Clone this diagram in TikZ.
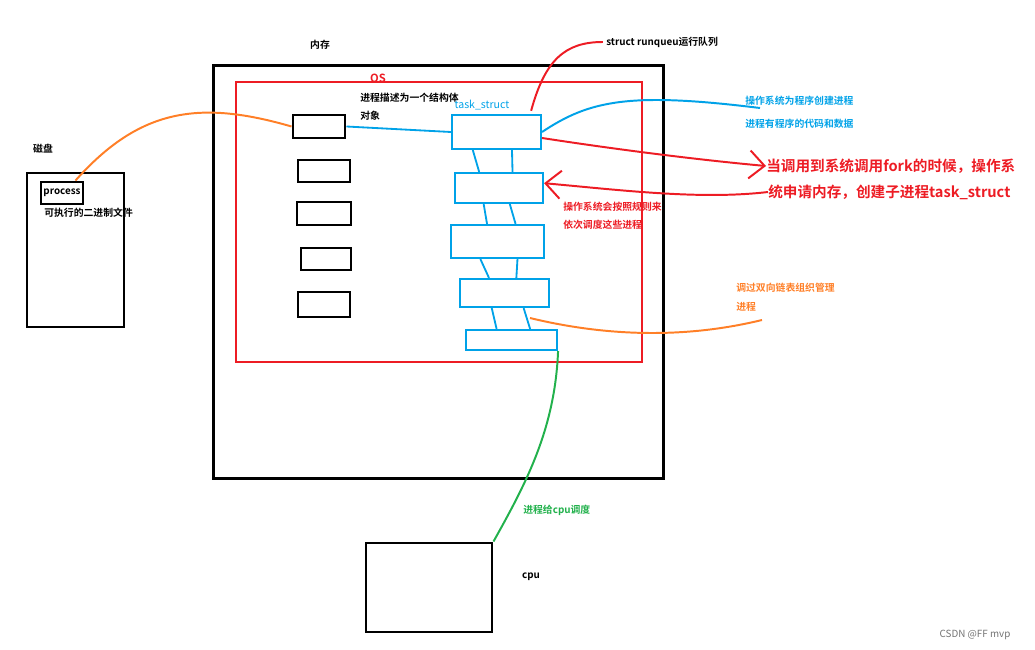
\documentclass[tikz,border=0pt]{standalone}
\usepackage{fontspec}
\setmainfont{Noto Sans CJK SC}[BoldFont={Noto Sans CJK SC Bold}]
\usetikzlibrary{arrows.meta,calc}
\definecolor{pred}{RGB}{237,28,36}
\definecolor{pblue}{RGB}{0,162,232}
\definecolor{porange}{RGB}{255,127,39}
\definecolor{pgreen}{RGB}{34,177,76}

\begin{document}
\begin{tikzpicture}[x=0.025cm, y=-0.025cm,
        blk/.style={draw=black, line width=2.1pt, inner sep=0pt},
        task/.style={draw=pblue, line width=1.5pt, inner sep=0pt},
        txt/.style={font=\bfseries\fontsize{7}{8}\selectfont, inner sep=0pt, anchor=west},
        bigtxt/.style={font=\bfseries\fontsize{10.4}{12}\selectfont, text=pred, inner sep=0pt, anchor=west},
        link/.style={pblue, line width=1.3pt},
        pen/.style={line width=1.4pt},
        barb/.style={-{Straight Barb[length=3.8mm, width=7mm, line width=1.4pt]}}]
        \useasboundingbox (0,0) rectangle (1035,650);

        % Memory and OS frames
        \node[blk, minimum width=11.225cm, minimum height=10.3cm] (mem) at (438.5,272) {};
        \node[draw=pred, line width=1.4pt, inner sep=0pt, minimum width=10.15cm, minimum height=7cm] (os) at (439,222) {};
        \node[txt, anchor=center] (memlbl) at (320,45) {内存};
        \node[inner sep=0pt, text=pred, font=\bfseries\fontsize{8}{9}\selectfont] (oslbl) at (378,78) {OS};
        \node[txt] (desc1) at (360,98) {进程描述为一个结构体};
        \node[txt] (desc2) at (360,116) {对象};

        % Disk with the program file
        \node[txt, anchor=center] (disklbl) at (43,149) {磁盘};
        \node[blk, minimum width=2.425cm, minimum height=3.85cm] (disk) at (75.5,250) {};
        \node[blk, minimum width=1.05cm, minimum height=0.55cm, font=\bfseries\fontsize{7}{8}\selectfont] (proc) at (62,193) {process};
        \node[txt] (binlbl) at (44,213) {可执行的二进制文件};

        % Left column - process objects
        \node[blk, minimum width=1.3cm, minimum height=0.575cm] (obj1) at (319,126.5) {};
        \node[blk, minimum width=1.3cm, minimum height=0.55cm] (obj2) at (324,171) {};
        \node[blk, minimum width=1.35cm, minimum height=0.575cm] (obj3) at (324,213.5) {};
        \node[blk, minimum width=1.25cm, minimum height=0.55cm] (obj4) at (326,259) {};
        \node[blk, minimum width=1.3cm, minimum height=0.625cm] (obj5) at (324,304.5) {};

        % Right column - task_struct list
        \node[inner sep=0pt, text=pblue, font=\fontsize{7.5}{8}\selectfont] (tslbl) at (482,105) {task\_struct};
        \node[task, minimum width=2.225cm, minimum height=0.85cm] (t1) at (496.5,132) {};
        \node[task, minimum width=2.2cm, minimum height=0.75cm] (t2) at (499,188) {};
        \node[task, minimum width=2.325cm, minimum height=0.825cm] (t3) at (497.5,241.5) {};
        \node[task, minimum width=2.225cm, minimum height=0.7cm] (t4) at (504.5,293) {};
        \node[task, minimum width=2.275cm, minimum height=0.5cm] (t5) at (511.5,340) {};

        % Links between the task_structs
        \draw[link] ($(t1.south west)!0.24!(t1.south east)$) -- ($(t2.north west)!0.28!(t2.north east)$);
        \draw[link] ($(t1.south west)!0.67!(t1.south east)$) -- ($(t2.north west)!0.65!(t2.north east)$);
        \draw[link] ($(t2.south west)!0.33!(t2.south east)$) -- ($(t3.north west)!0.39!(t3.north east)$);
        \draw[link] ($(t2.south west)!0.62!(t2.south east)$) -- ($(t3.north west)!0.69!(t3.north east)$);
        \draw[link] ($(t3.south west)!0.32!(t3.south east)$) -- ($(t4.north west)!0.33!(t4.north east)$);
        \draw[link] ($(t3.south west)!0.71!(t3.south east)$) -- ($(t4.north west)!0.63!(t4.north east)$);
        \draw[link] ($(t4.south west)!0.36!(t4.south east)$) -- ($(t5.north west)!0.34!(t5.north east)$);
        \draw[link] ($(t4.south west)!0.71!(t4.south east)$) -- ($(t5.north west)!0.70!(t5.north east)$);
        \draw[link] (obj1.east) -- (t1.west);

        % Notes around the list
        \node[txt] (rq) at (606,42) {struct runqueu运行队列};
        \draw[pred, pen] ([yshift=0.08cm]$(t1.north west)!0.88!(t1.north east)$) .. controls (545,60) and (565,42) .. ([xshift=-0.08cm]rq.west);

        \coordinate (bluend) at (760,108);
        \draw[pblue, pen] (t1.east) .. controls (590,100) and (630,92) .. (bluend);
        \node[txt, text=pblue] (create1) at (745,101) {操作系统为程序创建进程};
        \node[txt, text=pblue] (create2) at (745,124) {进程有程序的代码和数据};

        \node[bigtxt] (fork1) at (766,166) {当调用到系统调用fork的时候，操作系};
        \node[bigtxt] (fork2) at (768,192) {统申请内存，创建子进程task\_struct};
        \draw[pred, pen, barb] ([yshift=-0.15cm]t1.east) .. controls (620,150) and (700,160) .. (fork1.west);
        \draw[pred, pen, barb] (fork2.west) .. controls (700,200) and (620,190) .. ([yshift=0.12cm]t2.east);
        \node[txt, text=pred] (sched1) at (563,207) {操作系统会按照规则来};
        \node[txt, text=pred] (sched2) at (563,225) {依次调度这些进程};

        \coordinate (liststart) at (530,318);
        \coordinate (listend) at (762,320);
        \draw[porange, pen] (liststart) .. controls (600,335) and (680,340) .. (listend);
        \node[txt, text=porange] (list1) at (736,288) {调过双向链表组织管理};
        \node[txt, text=porange] (list2) at (736,307) {进程};

        \draw[porange, pen] ($(proc.north west)!0.8!(proc.north east)$) .. controls (140,108) and (200,100) .. (obj1.west);

        % CPU
        \node[blk, minimum width=3.15cm, minimum height=2.225cm] (cpu) at (429,587.5) {};
        \node[txt, anchor=center] (cpulbl) at (531,577) {cpu};
        \draw[pgreen, pen] (t5.south east) .. controls (555,430) and (525,485) .. (cpu.north east);
        \node[txt, text=pgreen] (cpusched) at (523,510) {进程给cpu调度};

        \node[inner sep=0pt, text=black!55, font=\fontsize{7}{8}\selectfont] (mark) at (975,635) {CSDN @FF mvp};
    \end{tikzpicture}
\end{document}
